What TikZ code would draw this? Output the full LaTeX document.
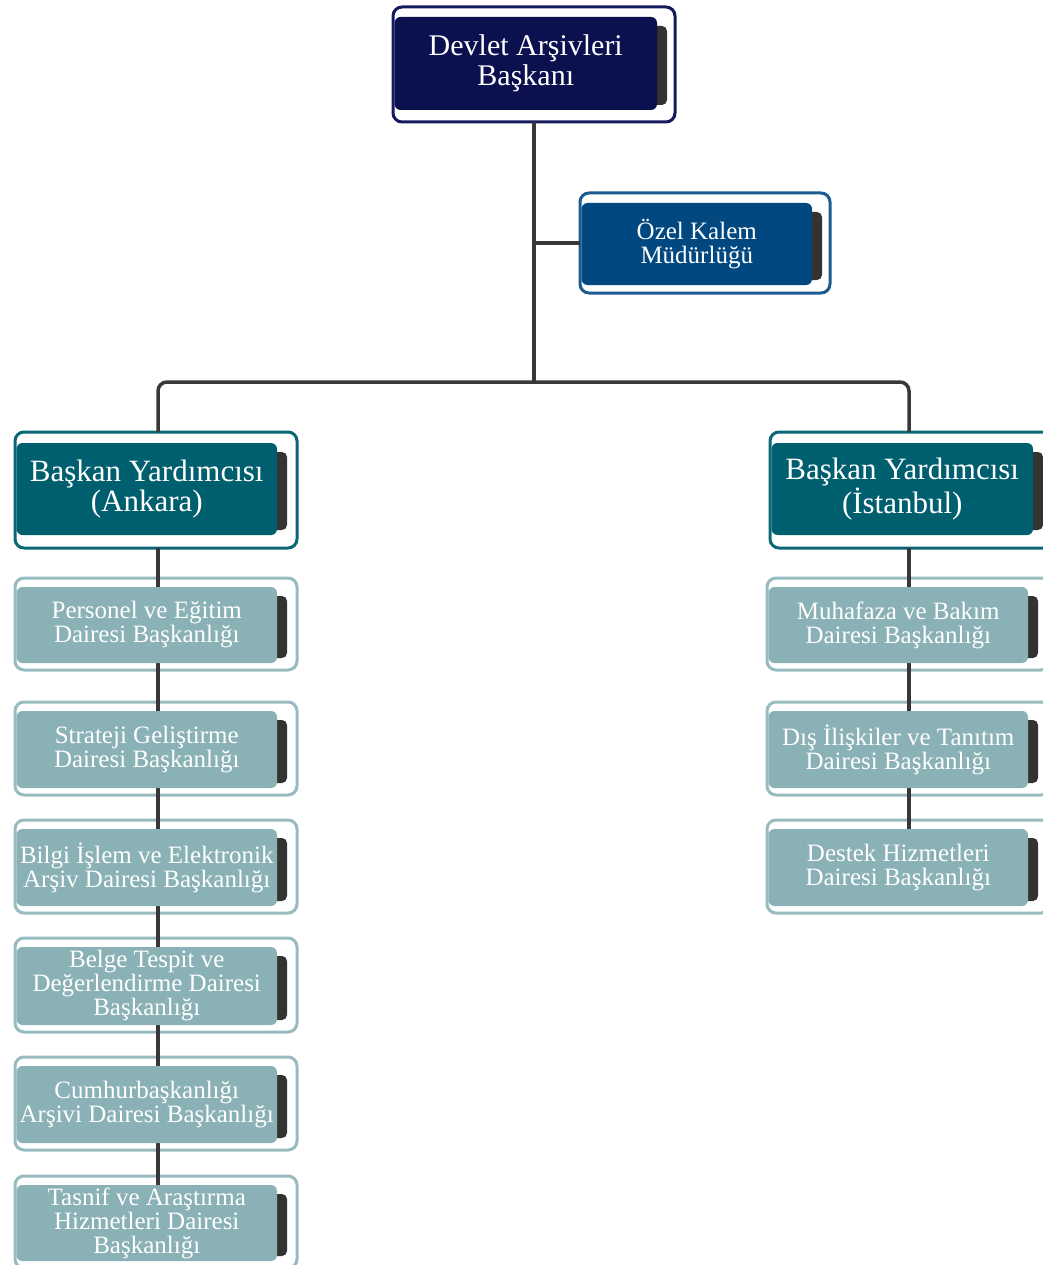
\documentclass[tikz,border=0pt]{standalone}
\usepackage{fontspec}
\setmainfont{Liberation Serif}
\usetikzlibrary{calc}
\pgfdeclarelayer{outerL}\pgfdeclarelayer{lineL}\pgfdeclarelayer{shadL}
\pgfsetlayers{outerL,lineL,shadL,main}
\definecolor{navy}{HTML}{0B104F}
\definecolor{navyB}{HTML}{141B5C}
\definecolor{ozc}{HTML}{014880}
\definecolor{ozcB}{HTML}{1B5B90}
\definecolor{teal}{HTML}{005F6E}
\definecolor{tealB}{HTML}{0A6876}
\definecolor{lite}{HTML}{8AB1B5}
\definecolor{liteB}{HTML}{98BBBF}
\definecolor{shadC}{HTML}{333333}
\definecolor{lineC}{HTML}{383838}
\tikzset{
 outerbox/.style={draw=#1, line width=3pt, fill=white, rounded corners=9pt, anchor=north west, inner sep=0pt, outer sep=0pt},
 innerbox/.style={fill=#1, rounded corners=6pt, anchor=north west, inner sep=0pt, outer sep=0pt, text=white, align=center},
 conn/.style={draw=lineC, line width=3.5pt},
 shd/.style={fill=shadC, rounded corners=5pt},
 ftop/.style={font=\fontsize{30}{30}\selectfont},
 fbyk/.style={font=\fontsize{31}{28}\selectfont},
 foz/.style={font=\fontsize{25}{24}\selectfont},
 fsub/.style={font=\fontsize{25}{24}\selectfont},
}
% #1 name, #2 colour, #3 ox1, #4 oy1, #5 ox2, #6 oy2, #7 ix2, #8 font, #9 text
\newcommand\orgbox[9]{%
 \pgfmathsetmacro\ow{#5-#3}\pgfmathsetmacro\oh{#6-#4}%
 \pgfmathsetmacro\iw{#7-#3-1.5}\pgfmathsetmacro\ih{#6-#4-\dt-\db}%
 \pgfmathsetmacro\ix{#3+1.5}\pgfmathsetmacro\iy{#4+\dt}%
 \begin{pgfonlayer}{outerL}\node[outerbox=#2B, minimum width=\ow pt, minimum height=\oh pt] (#1O) at (#3,#4) {};\end{pgfonlayer}
 \node[innerbox=#2, minimum width=\iw pt, minimum height=\ih pt, #8] (#1I) at (\ix,\iy) {#9};
 \begin{pgfonlayer}{shadL}\fill[shd] ($(#1I.north east)+(-20,9)$) rectangle ($(#1I.south east)+(10,-5)$);\end{pgfonlayer}
}
\begin{document}
\begin{tikzpicture}[x=1pt,y=-1pt]
\useasboundingbox (0,0) rectangle (1043,1265);
\def\dt{10}\def\db{12}
\orgbox{top}{navy}{393}{7}{675}{122}{657}{ftop}{Devlet Arşivleri\\Başkanı}
\def\dt{10}\def\db{8}
\orgbox{oz}{ozc}{580}{193}{830}{293}{812}{foz}{Özel Kalem\\Müdürlüğü}
\def\dt{11}\def\db{13}
\orgbox{ank}{teal}{15}{432}{297}{548}{277}{fbyk}{Başkan Yardımcısı\\(Ankara)}
\orgbox{ist}{teal}{770}{432}{1053}{548}{1033}{fbyk}{Başkan Yardımcısı\\(İstanbul)}
\def\dt{9}\def\db{7}
\orgbox{per}{lite}{15}{578}{297}{670}{277}{fsub}{Personel ve Eğitim\\Dairesi Başkanlığı}
\orgbox{str}{lite}{15}{702}{297}{795}{277}{fsub}{Strateji Geliştirme\\Dairesi Başkanlığı}
\orgbox{bil}{lite}{15}{820}{297}{913}{277}{fsub}{Bilgi İşlem ve Elektronik\\Arşiv Dairesi Başkanlığı}
\orgbox{bel}{lite}{15}{938}{297}{1032}{277}{fsub}{Belge Tespit ve\\Değerlendirme Dairesi\\Başkanlığı}
\orgbox{cum}{lite}{15}{1057}{297}{1150}{277}{fsub}{Cumhurbaşkanlığı\\Arşivi Dairesi Başkanlığı}
\orgbox{tas}{lite}{15}{1176}{297}{1268}{277}{fsub}{Tasnif ve Araştırma\\Hizmetleri Dairesi\\Başkanlığı}
\orgbox{muh}{lite}{767}{578}{1050}{670}{1028}{fsub}{Muhafaza ve Bakım\\Dairesi Başkanlığı}
\orgbox{dis}{lite}{767}{702}{1050}{795}{1028}{fsub}{Dış İlişkiler ve Tanıtım\\Dairesi Başkanlığı}
\orgbox{des}{lite}{767}{820}{1050}{913}{1028}{fsub}{Destek Hizmetleri\\Dairesi Başkanlığı}
\begin{pgfonlayer}{lineL}
\coordinate (J) at ($(topO.south)+(0,260)$);
\draw[conn] (topO.south) -- (J);
\draw[conn] (ozO.west -| topO.south) -- (ozO.west);
\draw[conn, rounded corners=9pt] ([xshift=2pt]ankO.north) |- (J) -| ([xshift=-2.5pt]istO.north);
\draw[conn] ([xshift=2pt]ankO.south) -- ([xshift=2pt]ankO.south |- tasI.north);
\draw[conn] ([xshift=-2.5pt]istO.south) -- ([xshift=-2.5pt]istO.south |- desI.north);
\end{pgfonlayer}
\end{tikzpicture}
\end{document}
